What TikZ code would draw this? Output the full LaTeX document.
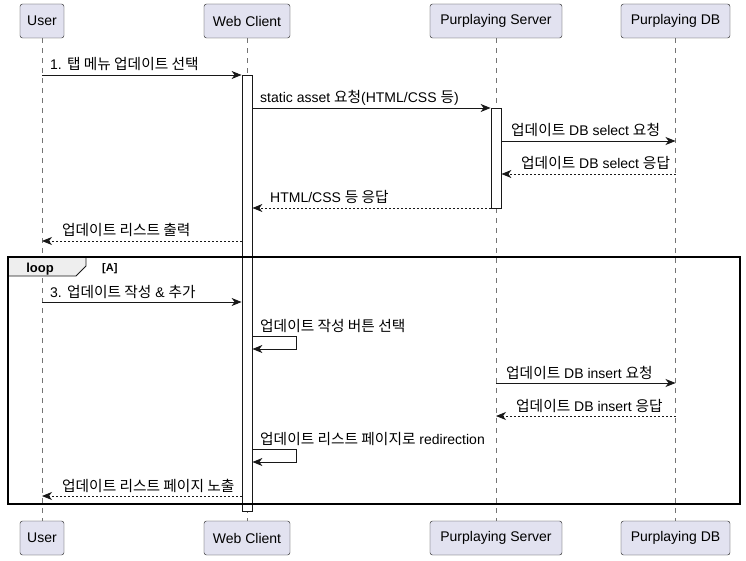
\documentclass[tikz,border=0pt]{standalone}
\usepackage{fontspec}
\setmainfont{Liberation Sans}
\newfontfamily\ko[Scale=1.05]{Noto Sans CJK KR}
\usetikzlibrary{arrows.meta}
\definecolor{partfill}{HTML}{E2E2F0}
\definecolor{umlline}{HTML}{181818}
\definecolor{tabfill}{HTML}{EEEEEE}

\begin{document}
\begin{tikzpicture}[x=1pt,y=-1pt,
    participant/.style={draw=umlline,fill=partfill,rounded corners=2.5pt,minimum height=34pt,inner sep=0pt,font=\fontsize{14}{16}\selectfont},
    lifeline/.style={umlline!60,dash pattern=on 5pt off 5pt,line width=0.6pt},
    activation/.style={draw=umlline,fill=white,minimum width=10pt,inner sep=0pt,line width=0.8pt},
    msg/.style={umlline,line width=0.9pt,-{Stealth[length=10pt,width=8pt,inset=3pt]}},
    reply/.style={msg,dash pattern=on 2pt off 2pt},
    msglabel/.style={anchor=base west,inner sep=0pt,font=\fontsize{14}{16}\selectfont}]
        \useasboundingbox (0,0) rectangle (746,561);

        % participants and lifelines
        \foreach \name/\x/\w/\txt in {user/42/44/User, client/247/86/Web Client, server/496/132/Purplaying Server, db/675.5/109/Purplaying DB}{
            \node[participant,minimum width=\w pt] (\name T) at (\x,21) {\txt};
            \node[participant,minimum width=\w pt] (\name B) at (\x,538) {\txt};
            \draw[lifeline] (\name T) -- (\name B);
        }

        % activations
        \node[activation,minimum height=436pt] (clientAct) at (247,293) {};
        \node[activation,minimum height=100pt] (serverAct) at (496,158) {};

        % loop frame
        \draw[umlline,fill=tabfill,line width=0.8pt] (8,257) -- (86,257) -- (86,266) -- (76,276) -- (8,276) -- cycle;
        \draw[black,line width=1.6pt] (8,257) rectangle (740,504);
        \node[anchor=base,inner sep=0pt,font=\bfseries\fontsize{13}{15}\selectfont] (loopT) at (40,272) {loop};
        \node[anchor=base west,inner sep=0pt,font=\bfseries\fontsize{11}{13}\selectfont] (loopG) at (102,271) {[A]};

        % messages
        \draw[msg] (userT |- 0,75) -- (clientAct.west |- 0,75);
        \node[msglabel] (m1) at (50,70) {1. {\ko 탭 메뉴 업데이트 선택}};

        \draw[msg] (clientAct.east |- 0,108) -- (serverAct.west |- 0,108);
        \node[msglabel] (m2) at (260,103) {static asset {\ko 요청}(HTML/CSS {\ko 등})};

        \draw[msg] (serverAct.east |- 0,141) -- (dbT |- 0,141);
        \node[msglabel] (m3) at (511,136) {{\ko 업데이트} DB select {\ko 요청}};

        \draw[reply] (dbT |- 0,174) -- (serverAct.east |- 0,174);
        \node[msglabel] (m4) at (521,169) {{\ko 업데이트} DB select {\ko 응답}};

        \draw[reply] (serverAct.west |- 0,208) -- (clientAct.east |- 0,208);
        \node[msglabel] (m5) at (270,203) {HTML/CSS {\ko 등 응답}};

        \draw[reply] (clientAct.west |- 0,241) -- (userT |- 0,241);
        \node[msglabel] (m6) at (62,236) {{\ko 업데이트 리스트 출력}};

        \draw[msg] (userT |- 0,302) -- (clientAct.west |- 0,302);
        \node[msglabel] (m7) at (50,297) {3. {\ko 업데이트 작성} \& {\ko 추가}};

        \draw[msg] (clientAct.east |- 0,336) -- ++(44,0) -- ++(0,13) -- ++(-44,0);
        \node[msglabel] (m8) at (260,331) {{\ko 업데이트 작성 버튼 선택}};

        \draw[msg] (serverT |- 0,383) -- (dbT |- 0,383);
        \node[msglabel] (m9) at (506,378) {{\ko 업데이트} DB insert {\ko 요청}};

        \draw[reply] (dbT |- 0,416) -- (serverT |- 0,416);
        \node[msglabel] (m10) at (516,411) {{\ko 업데이트} DB insert {\ko 응답}};

        \draw[msg] (clientAct.east |- 0,449) -- ++(44,0) -- ++(0,13) -- ++(-44,0);
        \node[msglabel] (m11) at (260,444) {{\ko 업데이트 리스트 페이지로} redirection};

        \draw[reply] (clientAct.west |- 0,496) -- (userT |- 0,496);
        \node[msglabel] (m12) at (62,491) {{\ko 업데이트 리스트 페이지 노출}};

    \end{tikzpicture}
\end{document}
